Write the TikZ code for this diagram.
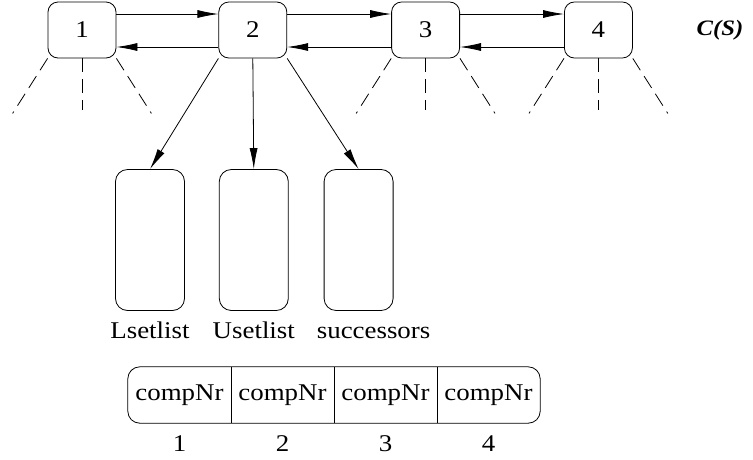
\documentclass[tikz,border=0pt]{standalone}
\usepackage{fontspec}
\setmainfont{Liberation Serif}[FakeStretch=1.12]
\usepackage{tikz}
\usetikzlibrary{matrix,arrows.meta,positioning}

\tikzset{
  comp/.style={draw, rounded corners=10pt, minimum width=68pt, minimum height=56pt, line width=0.8pt},
  setbox/.style={draw, rounded corners=12pt, minimum width=69pt, minimum height=141pt, line width=0.8pt},
  setlab/.style={text height=16pt, text depth=5pt},
  link/.style={-{Latex[length=21pt,width=8pt]}, line width=0.8pt},
  child/.style={dash pattern=on 14pt off 7pt, line width=0.8pt},
}

\begin{document}
\begin{tikzpicture}[x=1pt, y=-1pt, font=\fontsize{24}{28}\selectfont]
 \useasboundingbox (0,0) rectangle (753,459);
 % components of C(S)
 \node[comp] (c1) at (82,30) {1};
 \node[comp, right=102pt of c1] (c2) {2};
 \node[comp, right=104pt of c2] (c3) {3};
 \node[comp, right=104pt of c3] (c4) {4};
 \node[font=\fontsize{22}{26}\selectfont\bfseries\itshape] (cs) at (720,30) {C(S)};
 \foreach \a/\b in {c1/c2, c2/c3, c3/c4}{
  \draw[link] ([yshift=16pt]\a.east) -- ([yshift=16pt]\b.west);
  \draw[link] ([yshift=-17pt]\b.west) -- ([yshift=-17pt]\a.east);
 }
 \foreach \c in {c1, c3, c4}{
  \draw[child] (\c.south west) -- ++(-35,55);
  \draw[child] (\c.south) -- ++(0,52);
  \draw[child] (\c.south east) -- ++(35,55);
 }
 % lists of component 2
 \node[setbox] (lset) at (150,240) {};
 \node[setbox, right=34pt of lset] (uset) {};
 \node[setbox, right=35pt of uset] (succ) {};
 \node[setlab, below=8pt of lset] (lsetlab) {Lsetlist};
 \node[setlab, below=8pt of uset] (usetlab) {Usetlist};
 \node[setlab, below=8pt of succ, xshift=15pt] (succlab) {successors};
 \path[link]
  (c2.south west) edge (lset.north)
  (c2.south) edge (uset.north)
  (c2.south east) edge (succ.north);
 % compNr array
 \matrix (m) [matrix of nodes, column sep=0pt,
   nodes={minimum width=103pt, minimum height=56pt, inner sep=0pt}] at (334,395)
  {
    compNr & compNr & compNr & compNr \\
  };
 \draw[rounded corners=12pt, line width=0.8pt] (m-1-1.north west) rectangle (m-1-4.south east);
 \foreach \i in {1,2,3}
  \draw[line width=0.8pt] (m-1-\i.north east) -- (m-1-\i.south east);
 \foreach \i in {1,...,4}
  \node[setlab, text depth=0pt, below=9pt of m-1-\i] (idx\i) {\i};
\end{tikzpicture}
\end{document}
